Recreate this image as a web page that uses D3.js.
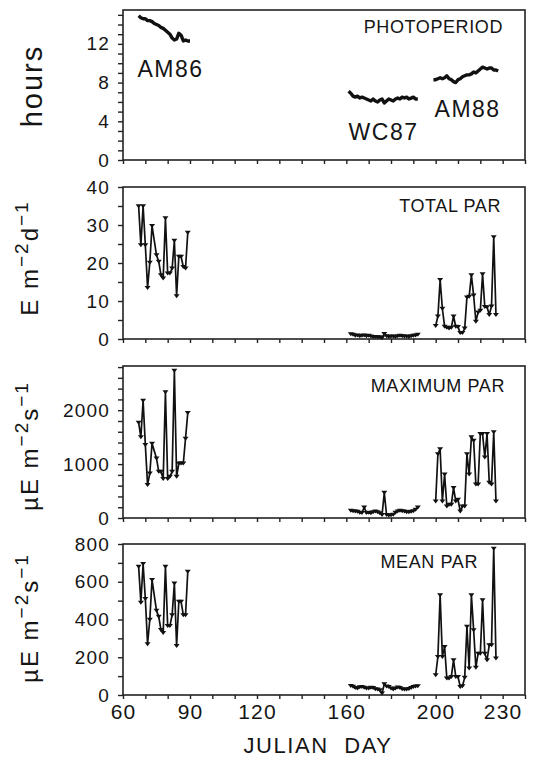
<!DOCTYPE html>
<html><head><meta charset="utf-8">
<script src="https://cdn.jsdelivr.net/npm/d3@7"></script>
<style>
body{margin:0;background:#fff}
text{font-family:"Liberation Sans",Arial,Helvetica,sans-serif;fill:#151515}
</style>
</head><body>
<svg id="c" width="540" height="757"></svg>
<script>
// ---------- DATA ----------
const xTickLabels = [60, 90, 120, 160, 200, 230];

const am86PhotoDays = [67,68,69,70,71,72,73,74,75,76,77,78,79,80,81,82,83,84,85,86,87,88,89,90];
const am86Photo = [14.9,14.7,14.6,14.6,14.4,14.4,14.3,14.1,14.0,13.9,13.7,13.6,13.4,13.2,13.0,12.6,12.4,12.5,13.1,12.9,12.3,12.4,12.3,12.3];
const wc87PhotoDays = [161,162,163,164,165,166,167,168,169,170,171,172,173,174,175,176,177,178,179,180,181,182,183,184,185,186,187,188,189,190,191,192];
const wc87Photo = [7.1,6.9,6.6,6.5,6.6,6.4,6.5,6.4,6.3,6.2,6.1,6.3,6.1,6.0,6.2,6.3,5.9,6.1,6.3,6.2,6.1,6.3,6.4,6.3,6.5,6.4,6.5,6.3,6.4,6.5,6.3,6.3];
const am88PhotoDays = [199,200,201,202,203,204,205,206,207,208,209,210,211,212,213,214,215,216,217,218,219,220,221,222,223,224,225,226,227,228];
const am88Photo = [8.3,8.3,8.4,8.5,8.4,8.5,8.7,8.4,8.3,8.1,8.0,8.3,8.4,8.6,8.7,8.8,8.8,8.9,9.1,9.0,9.2,9.4,9.6,9.5,9.4,9.5,9.5,9.3,9.3,9.2];

const am86Days = [67,68,69,70,71,72,73,75,76,77,78,79,80,81,82,83,84,85,86,87,88,89];
const am86Total = [35.0,24.7,35.0,24.7,13.5,20.1,29.8,22.1,20.4,16.8,16.0,31.8,17.3,17.3,18.6,25.9,11.3,21.7,21.7,19.0,18.6,28.0];
const am86Max = [1770,1500,2180,1360,615,830,1380,1107,861,860,726,2337,726,769,860,2737,769,1015,1015,1015,1476,1950];
const am86Mean = [680,490,695,510,270,400,610,447,415,345,330,680,366,366,424,592,260,495,495,424,424,654];

const wc87Days = [162,163,164,165,166,167,168,169,170,171,172,173,174,175,176,177,178,179,180,181,182,183,184,185,186,187,188,189,190,191,192];
const wc87Total = [1.3,1.2,0.9,1.0,0.8,0.9,1.0,0.8,0.9,0.7,0.6,0.6,0.5,0.5,0.3,1.4,0.8,0.6,0.7,0.7,0.6,0.8,0.9,0.8,0.7,0.7,0.6,0.8,0.9,1.0,1.2];
const wc87Max = [137,130,125,120,100,95,200,95,100,94,110,125,110,90,60,470,60,50,55,62,100,125,137,130,125,112,110,120,130,156,200];
const wc87Mean = [49,45,38,35,42,44,40,35,36,39,38,32,30,26,9,58,46,44,35,30,35,41,38,32,30,30,33,38,44,46,48];

const am88Days = [200,201,202,203,204,205,206,207,208,209,210,211,212,213,214,215,216,217,218,219,220,221,222,223,224,225,226,227];
const am88Total = [3.5,6.0,15.6,8.0,3.3,3.0,2.8,3.0,6.0,3.3,3.2,1.6,1.6,2.8,11.0,11.2,16.8,11.5,4.6,7.0,7.5,17.1,8.5,8.4,6.4,8.6,26.8,6.4];
const am88Max = [312,1187,1281,312,812,218,250,250,562,312,343,125,218,218,1187,812,1500,1437,625,625,1562,1562,1125,1562,656,625,1594,312];
const am88Mean = [106,203,529,203,256,88,88,97,185,97,97,44,48,92,362,141,529,344,146,220,220,503,220,185,265,265,776,194];

// ---------- LAYOUT ----------
const svg = d3.select('#c');
const L = 123, R = 525;
const x = d3.scaleLinear().domain([60, 240]).range([L, R]);
const xMinor = d3.range(60, 241, 10);
const zip = (ds, vs) => ds.map((d, i) => ({d, v: vs[i]}));

const panels = [
  {top: 10, bottom: 160, max: 15.5, labels: [0,4,8,12], step: 1, title: 'PHOTOPERIOD', titleX: 503, titleY: 33,
   ylab: [['hours', 0]], ylabX: 42, ylabY: 86, ylabSize: 29,
   series: [zip(am86PhotoDays, am86Photo), zip(wc87PhotoDays, wc87Photo), zip(am88PhotoDays, am88Photo)], photo: true},
  {top: 187, bottom: 339, max: 40, labels: [0,10,20,30,40], step: 5, title: 'TOTAL PAR', titleX: 501, titleY: 212,
   ylab: [['E m',0],['\u22122',1],['d',0],['\u22121',1]], ylabX: 38, ylabY: 258, ylabSize: 24,
   series: [zip(am86Days, am86Total), zip(wc87Days, wc87Total), zip(am88Days, am88Total)]},
  {top: 366, bottom: 518, max: 2820, labels: [0,1000,2000], step: 200, title: 'MAXIMUM PAR', titleX: 505, titleY: 392,
   ylab: [['\u00b5E m',0],['\u22122',1],['s',0],['\u22121',1]], ylabX: 38, ylabY: 446, ylabSize: 24,
   series: [zip(am86Days, am86Max), zip(wc87Days, wc87Max), zip(am88Days, am88Max)]},
  {top: 544, bottom: 695, max: 800, labels: [0,200,400,600,800], step: 100, title: 'MEAN PAR', titleX: 478, titleY: 568,
   ylab: [['\u00b5E m',0],['\u22122',1],['s',0],['\u22121',1]], ylabX: 38, ylabY: 618, ylabSize: 24,
   series: [zip(am86Days, am86Mean), zip(wc87Days, wc87Mean), zip(am88Days, am88Mean)], bottomAxis: true}
];

const tri = 'M-3,-1.8L3,-1.8L0,2.2Z';

panels.forEach(p => {
  const y = d3.scaleLinear().domain([0, p.max]).range([p.bottom, p.top]);
  const g = svg.append('g');
  const yt = d3.range(0, p.max + 1e-9, p.step);

  g.append('g').attr('transform', `translate(${L},0)`)
    .call(d3.axisLeft(y).tickValues(yt).tickSize(5).tickPadding(8)
      .tickFormat(d => p.labels.includes(d) ? d : ''))
    .call(a => a.select('.domain').remove())
    .call(a => a.selectAll('line').attr('stroke', '#222').attr('stroke-width', 1.4))
    .call(a => a.selectAll('text').attr('font-size', 19).attr('letter-spacing', 1.2)
      .attr('font-family', '"Liberation Sans",Arial,sans-serif').attr('fill', '#151515'));

  g.append('g').attr('transform', `translate(0,${p.bottom})`)
    .call(d3.axisBottom(x).tickValues(xMinor).tickSize(4).tickFormat(''))
    .call(a => a.select('.domain').remove())
    .call(a => a.selectAll('line').attr('stroke', '#222').attr('stroke-width', 1.4));

  if (p.bottomAxis) {
    g.append('g').attr('transform', `translate(0,${p.bottom})`)
      .call(d3.axisBottom(x).tickValues(xTickLabels).tickSize(0).tickPadding(9))
      .call(a => a.select('.domain').remove())
      .call(a => a.selectAll('text').attr('font-size', 21).attr('letter-spacing', 1.2)
        .attr('font-family', '"Liberation Sans",Arial,sans-serif').attr('fill', '#151515'));
  }

  g.append('rect').attr('x', L).attr('y', p.top).attr('width', R - L).attr('height', p.bottom - p.top)
    .attr('fill', 'none').attr('stroke', '#222').attr('stroke-width', 1.6);

  g.append('text').attr('x', p.titleX).attr('y', p.titleY).attr('text-anchor', 'end')
    .attr('font-size', 18).attr('letter-spacing', 0.6).text(p.title);

  const yl = g.append('text').attr('transform', `translate(${p.ylabX},${p.ylabY}) rotate(-90)`)
    .attr('text-anchor', 'middle').attr('font-size', p.ylabSize).attr('letter-spacing', 2);
  let shifted = 0;
  p.ylab.forEach(([t, sup]) => {
    const ts = yl.append('tspan').text(t);
    if (sup && !shifted) { ts.attr('dy', -10).attr('font-size', 19); shifted = 1; }
    else if (!sup && shifted) { ts.attr('dy', 10); shifted = 0; }
  });

  const line = d3.line().x(d => x(d.d)).y(d => y(d.v));
  p.series.forEach(s => {
    g.append('path').datum(s).attr('d', line).attr('fill', 'none').attr('stroke', '#111')
      .attr('stroke-width', p.photo ? 3.4 : 1.7).attr('stroke-linejoin', 'round');
    if (!p.photo) {
      g.selectAll(null).data(s).enter().append('path').attr('d', tri)
        .attr('transform', d => `translate(${x(d.d)},${y(d.v)})`).attr('fill', '#111');
    }
  });
});

// dataset labels in photoperiod panel
const yP = d3.scaleLinear().domain([0, 15.5]).range([160, 10]);
const setNames = ['AM86', 'WC87', 'AM88'];
const setDay = [66.5, 161, 199.5];
const setVal = [8.6, 2.1, 4.4];
svg.append('g').selectAll('text').data(setNames).enter().append('text')
  .attr('x', (d, i) => x(setDay[i])).attr('y', (d, i) => yP(setVal[i]))
  .attr('font-size', 23).attr('letter-spacing', 1.5).text(d => d);

svg.append('text').attr('x', 318).attr('y', 753).attr('text-anchor', 'middle')
  .attr('font-size', 22).attr('letter-spacing', 1.6).text('JULIAN  DAY')
  .style('white-space', 'pre');
</script>
</body></html>
